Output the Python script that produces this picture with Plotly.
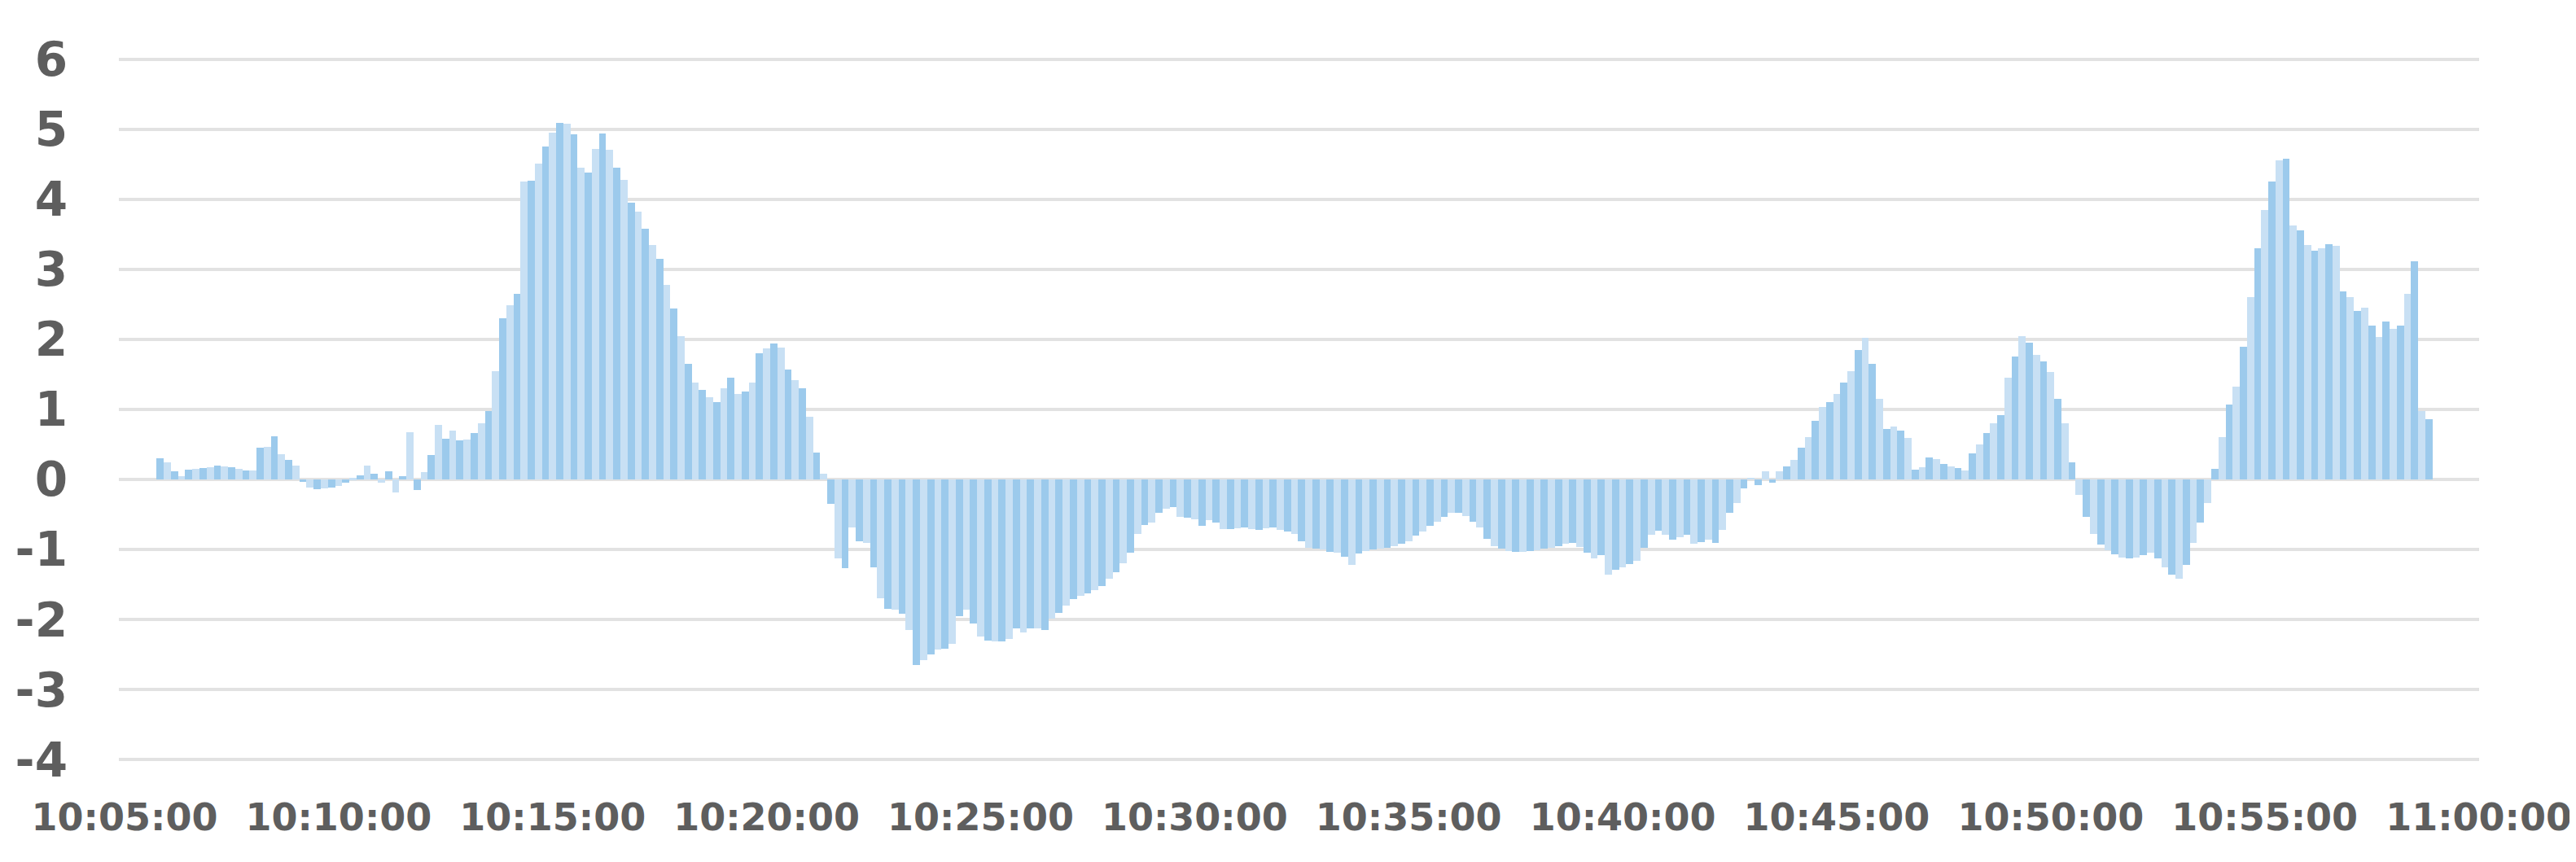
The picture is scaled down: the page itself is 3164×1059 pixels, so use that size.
import pandas as pd
import plotly.graph_objects as go

# ── Data ───────────────────────────────────────────────────────────────────────
START = "2024-01-01 10:05:50"
STEP = "10s"

# one reading per 10 seconds, rows of 100 s
values = [
    0.30, 0.25, 0.12, 0.05, 0.14, 0.15, 0.16, 0.18, 0.20, 0.19,
    0.17, 0.15, 0.13, 0.13, 0.45, 0.46, 0.62, 0.36, 0.28, 0.20,
    -0.03, -0.11, -0.14, -0.13, -0.11, -0.09, -0.04, 0.02, 0.06, 0.20,
    0.08, -0.04, 0.12, -0.18, 0.05, 0.68, -0.15, 0.10, 0.35, 0.78,
    0.58, 0.70, 0.56, 0.57, 0.66, 0.80, 0.98, 1.55, 2.30, 2.49,
    2.65, 4.25, 4.27, 4.51, 4.75, 4.95, 5.09, 5.08, 4.93, 4.45,
    4.38, 4.72, 4.94, 4.70, 4.45, 4.28, 3.95, 3.82, 3.58, 3.35,
    3.15, 2.78, 2.44, 2.05, 1.65, 1.38, 1.28, 1.18, 1.10, 1.30,
    1.45, 1.22, 1.25, 1.38, 1.80, 1.87, 1.94, 1.88, 1.57, 1.42,
    1.30, 0.90, 0.38, 0.08, -0.35, -1.12, -1.26, -0.68, -0.88, -0.90,
    -1.25, -1.70, -1.85, -1.86, -1.92, -2.15, -2.65, -2.58, -2.50, -2.43,
    -2.42, -2.34, -1.95, -1.86, -2.05, -2.24, -2.30, -2.31, -2.31, -2.28,
    -2.13, -2.18, -2.12, -2.13, -2.15, -1.98, -1.90, -1.80, -1.71, -1.66,
    -1.62, -1.58, -1.52, -1.42, -1.32, -1.20, -1.05, -0.78, -0.65, -0.61,
    -0.48, -0.42, -0.39, -0.53, -0.54, -0.57, -0.66, -0.58, -0.62, -0.71,
    -0.71, -0.70, -0.69, -0.71, -0.72, -0.70, -0.68, -0.72, -0.74, -0.78,
    -0.88, -0.97, -0.99, -1.00, -1.03, -1.04, -1.10, -1.22, -1.06, -1.02,
    -1.00, -0.99, -0.98, -0.95, -0.92, -0.88, -0.80, -0.74, -0.66, -0.60,
    -0.53, -0.48, -0.47, -0.52, -0.60, -0.69, -0.85, -0.95, -0.99, -1.02,
    -1.03, -1.03, -1.02, -1.01, -0.99, -0.98, -0.95, -0.92, -0.90, -0.96,
    -1.05, -1.12, -1.08, -1.36, -1.29, -1.25, -1.21, -1.16, -0.98, -0.79,
    -0.73, -0.79, -0.86, -0.82, -0.79, -0.92, -0.89, -0.86, -0.90, -0.72,
    -0.48, -0.34, -0.13, 0.03, -0.08, 0.12, -0.04, 0.12, 0.19, 0.28,
    0.45, 0.60, 0.84, 1.04, 1.11, 1.22, 1.38, 1.55, 1.85, 2.02,
    1.65, 1.15, 0.72, 0.76, 0.70, 0.59, 0.14, 0.17, 0.31, 0.29,
    0.22, 0.19, 0.16, 0.13, 0.37, 0.50, 0.66, 0.80, 0.92, 1.45,
    1.75, 2.05, 1.95, 1.78, 1.68, 1.53, 1.15, 0.80, 0.25, -0.22,
    -0.53, -0.78, -0.93, -1.01, -1.07, -1.11, -1.13, -1.11, -1.08, -1.04,
    -1.13, -1.25, -1.36, -1.42, -1.22, -0.90, -0.62, -0.34, 0.15, 0.60,
    1.07, 1.32, 1.90, 2.60, 3.30, 3.85, 4.25, 4.55, 4.58, 3.62,
    3.55, 3.35, 3.27, 3.30, 3.36, 3.33, 2.68, 2.60, 2.40, 2.45,
    2.20, 2.03, 2.25, 2.15, 2.20, 2.65, 3.11, 0.98, 0.86,
]

x_ticks = ["10:05:00", "10:10:00", "10:15:00", "10:20:00", "10:25:00", "10:30:00",
           "10:35:00", "10:40:00", "10:45:00", "10:50:00", "10:55:00", "11:00:00"]
y_ticks = [-4, -3, -2, -1, 0, 1, 2, 3, 4, 5, 6]

# ── Theme ──────────────────────────────────────────────────────────────────────
BAR_DARK = "#9ccaec"
BAR_LIGHT = "#c8e0f4"
GRID = "#e2e2e2"
TEXT = "#5e5e5e"
FONT = "DejaVu Sans"

times = pd.date_range(START, periods=len(values), freq=STEP)
day = times[0].strftime("%Y-%m-%d")
tick_vals = [f"{day} {t}" for t in x_ticks]

# alternating shades to imitate the striped look of the dense bars
colors = [BAR_DARK if i % 2 == 0 else BAR_LIGHT for i in range(len(values))]

fig = go.Figure(go.Bar(
    x=times, y=values,
    marker=dict(color=colors, line=dict(width=0)),
))

fig.update_layout(
    width=3164, height=1059,
    paper_bgcolor="white", plot_bgcolor="white",
    margin=dict(l=138, r=127, t=62, b=131),
    bargap=0,
    showlegend=False,
    font=dict(family=FONT, color=TEXT),
)
fig.update_xaxes(
    type="date",
    range=[f"{day} 10:04:52", f"{day} 11:00:00.5"],
    tickvals=tick_vals, ticktext=x_ticks,
    tickangle=0,
    ticklabeloverflow="allow",
    showgrid=False, zeroline=False, showline=False,
    automargin=False,
    ticklabelstandoff=37,
    tickfont=dict(family=FONT, size=46, color=TEXT, weight="bold"),
)
fig.update_yaxes(
    range=[-4.03, 6.03],
    tickvals=y_ticks, ticktext=[str(v) for v in y_ticks],
    showgrid=True, gridcolor=GRID, gridwidth=4,
    zeroline=False, showline=False,
    automargin=False,
    ticklabelstandoff=62,
    tickfont=dict(family=FONT, size=58, color=TEXT, weight="bold"),
)

fig.write_html("out.html")
